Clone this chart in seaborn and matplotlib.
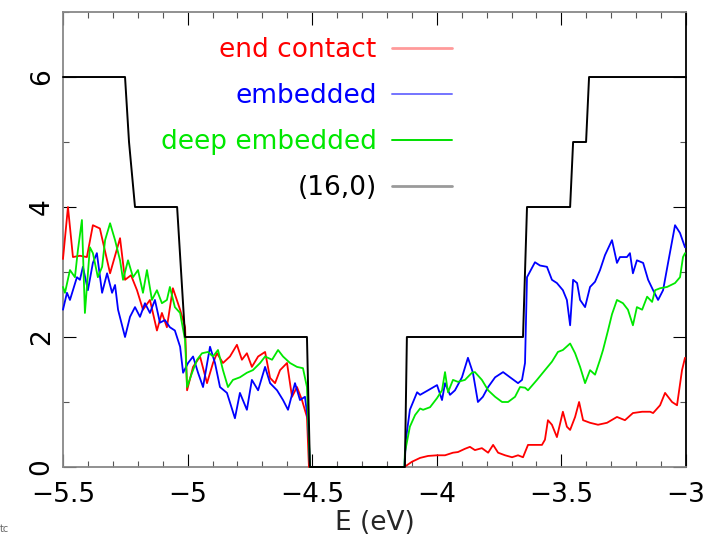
import matplotlib
matplotlib.use("Agg")
import matplotlib.pyplot as plt
from matplotlib.lines import Line2D
from matplotlib.ticker import MultipleLocator
import numpy as np
import pandas as pd
import seaborn as sns

# ---- data (E in eV, DOS in arbitrary units) ----
end_contact_e = [-5.500, -5.480, -5.460, -5.432, -5.404, -5.380, -5.352, -5.311, -5.271, -5.251,
                 -5.227, -5.203, -5.179, -5.151, -5.123, -5.103, -5.083, -5.059, -5.030, -5.010,
                 -5.002, -4.978, -4.950, -4.922, -4.898, -4.882, -4.858, -4.830, -4.802, -4.782,
                 -4.762, -4.742, -4.717, -4.689, -4.669, -4.649, -4.629, -4.601, -4.581, -4.561,
                 -4.541, -4.521, -4.513, -4.130, -4.100, -4.067, -4.035, -3.999, -3.967, -3.935,
                 -3.915, -3.887, -3.867, -3.847, -3.819, -3.794, -3.774, -3.754, -3.726, -3.698,
                 -3.674, -3.654, -3.634, -3.606, -3.578, -3.566, -3.554, -3.538, -3.518, -3.494,
                 -3.478, -3.465, -3.445, -3.429, -3.413, -3.385, -3.353, -3.317, -3.277, -3.245,
                 -3.213, -3.176, -3.144, -3.132, -3.104, -3.084, -3.056, -3.036, -3.016, -3.004]
end_contact_dos = [3.20, 4.00, 3.23, 3.25, 3.23, 3.72, 3.67, 2.98, 3.52, 2.88,
                   2.95, 2.72, 2.42, 2.57, 2.10, 2.37, 2.15, 2.75, 2.42, 2.15,
                   1.18, 1.54, 1.70, 1.29, 1.60, 1.75, 1.60, 1.70, 1.88, 1.65,
                   1.75, 1.54, 1.70, 1.77, 1.37, 1.29, 1.49, 1.60, 1.08, 1.23,
                   1.03, 0.77, 0.00, 0.00, 0.08, 0.14, 0.17, 0.18, 0.18, 0.22,
                   0.23, 0.28, 0.31, 0.26, 0.29, 0.22, 0.34, 0.22, 0.18, 0.15,
                   0.18, 0.15, 0.34, 0.34, 0.34, 0.42, 0.72, 0.65, 0.46, 0.85,
                   0.62, 0.57, 0.77, 1.00, 0.72, 0.68, 0.65, 0.68, 0.77, 0.72,
                   0.83, 0.85, 0.85, 0.83, 0.95, 1.14, 1.00, 0.95, 1.49, 1.68]

embedded_e = [-5.500, -5.484, -5.472, -5.444, -5.432, -5.420, -5.400, -5.380, -5.364, -5.343,
              -5.323, -5.303, -5.291, -5.279, -5.251, -5.231, -5.211, -5.191, -5.171, -5.151,
              -5.131, -5.111, -5.091, -5.071, -5.051, -5.030, -5.018, -4.998, -4.978, -4.958,
              -4.938, -4.910, -4.890, -4.870, -4.842, -4.810, -4.790, -4.762, -4.742, -4.717,
              -4.689, -4.669, -4.641, -4.617, -4.597, -4.569, -4.549, -4.529, -4.517, -4.509,
              -4.130, -4.124, -4.108, -4.079, -4.067, -4.035, -3.999, -3.979, -3.967, -3.947,
              -3.927, -3.899, -3.875, -3.855, -3.835, -3.815, -3.794, -3.766, -3.734, -3.706,
              -3.674, -3.658, -3.646, -3.638, -3.606, -3.586, -3.558, -3.538, -3.518, -3.494,
              -3.478, -3.465, -3.453, -3.437, -3.425, -3.405, -3.385, -3.365, -3.345, -3.325,
              -3.297, -3.277, -3.265, -3.237, -3.225, -3.213, -3.197, -3.172, -3.152, -3.132,
              -3.112, -3.092, -3.072, -3.044, -3.024, -3.004]
embedded_dos = [2.42, 2.68, 2.57, 2.92, 2.88, 3.08, 2.72, 3.14, 3.29, 2.68,
                2.98, 2.68, 2.80, 2.42, 2.00, 2.31, 2.46, 2.31, 2.52, 2.37,
                2.57, 2.22, 2.26, 2.15, 2.10, 1.85, 1.45, 1.60, 1.70, 1.45,
                1.23, 1.85, 1.60, 1.23, 1.14, 0.75, 1.14, 0.88, 1.34, 1.18,
                1.54, 1.29, 1.18, 1.03, 0.88, 1.29, 1.03, 1.08, 0.72, 0.00,
                0.00, 0.42, 0.88, 1.15, 1.11, 1.18, 1.26, 1.03, 1.29, 1.11,
                1.18, 1.38, 1.68, 1.45, 1.00, 1.08, 1.23, 1.38, 1.46, 1.38,
                1.29, 1.34, 1.60, 2.92, 3.15, 3.10, 3.08, 2.88, 2.83, 2.72,
                2.57, 2.18, 2.88, 2.83, 2.57, 2.46, 2.77, 2.85, 3.03, 3.26,
                3.49, 3.14, 3.23, 3.23, 3.29, 2.98, 3.18, 3.14, 2.88, 2.72,
                2.57, 2.72, 3.14, 3.72, 3.60, 3.38]

deep_e = [-5.500, -5.492, -5.472, -5.452, -5.440, -5.424, -5.412, -5.392, -5.380, -5.360,
          -5.343, -5.331, -5.311, -5.291, -5.271, -5.259, -5.239, -5.219, -5.199, -5.179,
          -5.163, -5.143, -5.123, -5.103, -5.083, -5.071, -5.051, -5.030, -5.010, -5.002,
          -4.982, -4.962, -4.942, -4.918, -4.898, -4.878, -4.858, -4.838, -4.818, -4.790,
          -4.762, -4.738, -4.709, -4.689, -4.661, -4.637, -4.617, -4.589, -4.561, -4.537,
          -4.521, -4.509, -4.130, -4.128, -4.108, -4.087, -4.067, -4.055, -4.027, -3.999,
          -3.979, -3.967, -3.955, -3.935, -3.915, -3.887, -3.859, -3.847, -3.819, -3.794,
          -3.766, -3.738, -3.714, -3.686, -3.666, -3.646, -3.634, -3.598, -3.566, -3.538,
          -3.514, -3.494, -3.465, -3.445, -3.425, -3.405, -3.385, -3.365, -3.345, -3.333,
          -3.313, -3.297, -3.277, -3.253, -3.233, -3.213, -3.197, -3.176, -3.156, -3.136,
          -3.124, -3.104, -3.076, -3.044, -3.024, -3.012, -3.004]
deep_dos = [2.77, 2.68, 3.03, 2.92, 3.34, 3.80, 2.37, 3.38, 3.29, 2.92,
            3.08, 3.49, 3.75, 3.49, 3.18, 2.88, 3.18, 2.92, 3.03, 2.68,
            3.03, 2.57, 2.72, 2.52, 2.57, 2.77, 2.46, 2.37, 1.95, 1.23,
            1.45, 1.65, 1.75, 1.77, 1.70, 1.80, 1.49, 1.23, 1.34, 1.38,
            1.45, 1.49, 1.60, 1.70, 1.65, 1.80, 1.70, 1.60, 1.54, 1.52,
            1.23, 0.00, 0.00, 0.22, 0.62, 0.80, 0.90, 0.88, 0.92, 1.06,
            1.18, 1.46, 1.15, 1.34, 1.31, 1.34, 1.45, 1.46, 1.34, 1.18,
            1.08, 1.00, 1.00, 1.08, 1.23, 1.22, 1.18, 1.34, 1.49, 1.62,
            1.77, 1.80, 1.90, 1.75, 1.54, 1.29, 1.49, 1.42, 1.65, 1.80,
            2.10, 2.35, 2.57, 2.52, 2.42, 2.18, 2.46, 2.42, 2.62, 2.54,
            2.72, 2.75, 2.77, 2.83, 2.92, 3.23, 3.29]

tube_e = [-5.500, -5.251, -5.235, -5.211, -5.042, -5.010, -4.521, -4.509, -4.128, -4.120,
          -3.654, -3.638, -3.465, -3.453, -3.401, -3.389, -3.000]
tube_dos = [6, 6, 5, 4, 4, 2, 2, 0, 0, 2,
            2, 4, 4, 5, 5, 6, 6]

series_labels = ["end contact", "embedded", "deep embedded", "(16,0)"]
series_colors = ["#ff0000", "#0000ff", "#00e800", "#000000"]
legend_handle_colors = ["#ff9a9a", "#7474ff", "#00e000", "#9a9a9a"]

x_ticks = [-5.5, -5, -4.5, -4, -3.5, -3]
x_tick_labels = ["\u22125.5", "\u22125", "\u22124.5", "\u22124", "\u22123.5", "\u22123"]
y_ticks = [0, 2, 4, 6]


def main():
    sns.set_theme(style="ticks")
    plt.rcParams["font.family"] = ["DejaVu Sans"]

    fig = plt.figure(figsize=(7.10, 5.46), dpi=100)
    ax = fig.add_axes([0.0887, 0.1447, 0.8775, 0.8333])

    curves = [(end_contact_e, end_contact_dos), (embedded_e, embedded_dos),
              (deep_e, deep_dos), (tube_e, tube_dos)]
    for (e, dos), label, color in zip(curves, series_labels, series_colors):
        df = pd.DataFrame({"E": e, "DOS": dos})
        lw = 1.3 if label != "(16,0)" else 1.4
        sns.lineplot(data=df, x="E", y="DOS", sort=False, estimator=None,
                     color=color, lw=lw, ax=ax, legend=False, zorder=3,
                     clip_on=False)

    ax.set_xlim(-5.5, -3.0)
    ax.set_ylim(0, 7)
    ax.set_xticks(x_ticks)
    ax.set_xticklabels(x_tick_labels)
    ax.set_yticks(y_ticks)
    ax.set_yticklabels([str(v) for v in y_ticks], rotation=90, va="center")
    ax.xaxis.set_minor_locator(MultipleLocator(0.1))
    ax.yaxis.set_minor_locator(MultipleLocator(1))
    ax.tick_params(which="both", direction="in", top=True, right=True,
                   labelsize=19, colors="black")
    ax.tick_params(which="major", length=9.5, width=0.8)
    ax.tick_params(which="minor", length=4.5, width=0.8, color="#555555")
    ax.tick_params(axis="x", pad=11)
    ax.tick_params(axis="y", pad=6)

    for side in ["left", "top", "bottom"]:
        ax.spines[side].set_color("#888888")
        ax.spines[side].set_linewidth(1.3)
    ax.spines["right"].set_color("black")
    ax.spines["right"].set_linewidth(1.3)

    ax.set_xlabel("E (eV)", fontsize=19, labelpad=1)
    ax.set_ylabel("")

    handles = [Line2D([], [], color=c, lw=2.0 if i in (0, 3) else 1.4)
               for i, c in enumerate(legend_handle_colors)]
    ax.legend(handles, series_labels, markerfirst=False, frameon=False,
              labelcolor=series_colors, fontsize=19, handlelength=2.25,
              handletextpad=0.6, labelspacing=0.76, borderpad=0,
              loc="upper right", bbox_to_anchor=(465 / 710, 1 - 24 / 546),
              bbox_transform=fig.transFigure)

    fig.text(0.0, 0.025, "tc", fontsize=7, color="#666666")

    fig.savefig("out.png", dpi=100)


if __name__ == "__main__":
    main()
